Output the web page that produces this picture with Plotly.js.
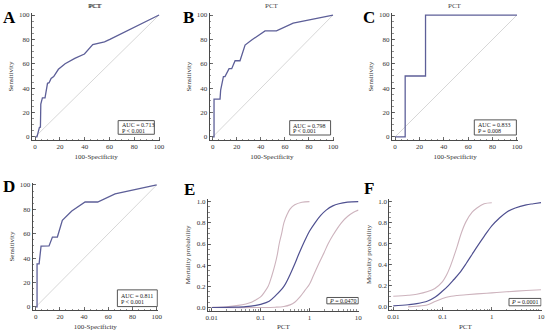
<!DOCTYPE html>
<html><head><meta charset="utf-8">
<script src="https://cdn.plot.ly/plotly-3.0.1.min.js"></script>
<style>html,body{margin:0;padding:0;background:#fff}#c{width:550px;height:334px}</style>
</head><body><div id="c"></div>
<script>
// ROC data (100-Specificity, Sensitivity)
const A_fpr = [0, 1.5, 3.5, 4.3, 4.6, 5.9, 8, 10, 11.3, 12.9, 15, 18.8, 24.2, 32, 39.8, 46.5, 56, 60.3, 100];
const A_tpr = [0, 0, 7.9, 8, 27, 32, 32, 44, 44.5, 48, 49.5, 55.5, 60, 64.5, 68, 75.7, 78, 80, 100];
const B_fpr = [0, 1.1, 1.1, 6.1, 6.6, 8.9, 10.2, 13.6, 15.8, 18.6, 22.7, 26.9, 32.4, 43.5, 53, 66.9, 100];
const B_tpr = [0, 0, 31, 31, 38.5, 49.5, 49.5, 56, 56, 62.5, 62.5, 75.4, 79.5, 87, 87, 93.4, 100];
const C_fpr = [0, 8.3, 8.3, 25, 25, 100];
const C_tpr = [0, 0, 50, 50, 100, 100];
const D_fpr = [0, 1.1, 1.1, 2.8, 4.4, 11, 13.8, 17.9, 22, 29.8, 40.8, 51.2, 65.6, 100];
const D_tpr = [0, 0, 35.3, 35.3, 49.9, 50, 57.3, 57.3, 71, 78.6, 86, 86, 92.6, 100];
const diag = [0, 100];
const aucLabels = ["AUC = 0.713", "AUC = 0.798", "AUC = 0.833", "AUC = 0.811"];
const pLabels = ["P < 0.001", "P < 0.001", "P = 0.008", "P < 0.001"];

// Mortality probability curves (PCT, probability)
const E_mid_x = [0.01, 0.03, 0.05, 0.08, 0.1, 0.15, 0.2, 0.3, 0.4, 0.5, 0.6, 0.8, 1, 1.3, 1.7, 2.2, 3, 4, 6, 10];
const E_mid_y = [0.0, 0.003, 0.008, 0.02, 0.03, 0.06, 0.11, 0.2, 0.31, 0.41, 0.5, 0.63, 0.72, 0.8, 0.87, 0.92, 0.96, 0.98, 0.995, 1.0];
const E_up_x = [0.01, 0.02, 0.035, 0.05, 0.065, 0.08, 0.1, 0.12, 0.143, 0.17, 0.196, 0.22, 0.24, 0.27, 0.3, 0.35, 0.4, 0.5, 0.7, 1.0];
const E_up_y = [0.003, 0.008, 0.02, 0.034, 0.05, 0.072, 0.1, 0.145, 0.2, 0.3, 0.4, 0.5, 0.6, 0.7, 0.8, 0.88, 0.93, 0.97, 0.995, 1.0];
const E_lo_x = [0.01, 0.1, 0.2, 0.3, 0.4, 0.5, 0.64, 0.8, 1.0, 1.2, 1.5, 2.0, 2.4, 3.0, 4.5, 6, 8, 10];
const E_lo_y = [0, 0.0, 0.003, 0.01, 0.025, 0.05, 0.1, 0.16, 0.22, 0.3, 0.4, 0.52, 0.6, 0.68, 0.8, 0.86, 0.9, 0.92];
const F_mid_x = [0.01, 0.02, 0.03, 0.05, 0.07, 0.1, 0.13, 0.17, 0.22, 0.3, 0.4, 0.5, 0.7, 1.0, 1.4, 2, 3, 5, 7, 10];
const F_mid_y = [0.01, 0.02, 0.03, 0.055, 0.09, 0.15, 0.2, 0.26, 0.32, 0.41, 0.5, 0.57, 0.67, 0.77, 0.84, 0.9, 0.94, 0.97, 0.98, 0.99];
const F_up_x = [0.01, 0.02, 0.03, 0.05, 0.07, 0.1, 0.12, 0.14, 0.17, 0.2, 0.24, 0.3, 0.4, 0.5, 0.7, 1.0];
const F_up_y = [0.1, 0.11, 0.12, 0.145, 0.175, 0.24, 0.3, 0.37, 0.48, 0.58, 0.7, 0.81, 0.9, 0.94, 0.98, 0.99];
const F_lo_x = [0.02, 0.03, 0.05, 0.07, 0.1, 0.15, 0.2, 0.3, 0.5, 1, 2, 5, 10];
const F_lo_y = [0.0, 0.005, 0.02, 0.05, 0.08, 0.1, 0.108, 0.115, 0.123, 0.133, 0.143, 0.155, 0.163];
const probLabels = ["<i>P</i> = 0.0470", "<i>P</i> = 0.0001"];
const panelLetters = ["A", "B", "C", "D", "E", "F"];

const W = 550, H = 334;
const FONT = "Liberation Serif";
const ROCCOL = "#5d5f98", DIAGCOL = "#d2d2d2", MIDCOL = "#4f5090", CICOL = "#cdb3bd", AX = "#4a4a4a";

// pixel boxes [left, right, top, bottom]
const boxes = [
  [32, 160.3, 13.2, 140],
  [209.7, 334.2, 13.2, 140],
  [392, 518.2, 13.2, 140],
  [32.7, 157.9, 183.1, 310],
  [208, 358.8, 199, 310.7],
  [389.3, 541.5, 199, 310]
];
function dx(b){return [b[0]/W, b[1]/W];}
function dy(b){return [(H-b[3])/H, (H-b[2])/H];}

const traces = [];
const layout = {
  width: W, height: H, margin: {l:0,r:0,t:0,b:0},
  paper_bgcolor: "#fff", plot_bgcolor: "rgba(0,0,0,0)",
  showlegend: false, font: {family: FONT, size: 7, color: "#333"},
  annotations: [], shapes: []
};
const rocData = [[A_fpr,A_tpr],[B_fpr,B_tpr],[C_fpr,C_tpr],[D_fpr,D_tpr]];
const probData = [
  [[E_up_x,E_up_y],[E_lo_x,E_lo_y],[E_mid_x,E_mid_y]],
  [[F_up_x,F_up_y],[F_lo_x,F_lo_y],[F_mid_x,F_mid_y]]
];

for (let i = 0; i < 6; i++) {
  const n = i + 1;
  const xa = "xaxis" + (n===1?"":n), ya = "yaxis" + (n===1?"":n);
  const xr = "x" + (n===1?"":n), yr = "y" + (n===1?"":n);
  const b = boxes[i];
  const common = {showgrid:false, zeroline:false, showline:true, linecolor:AX, linewidth:1,
    ticks:"inside", ticklen:3, tickcolor:AX, tickwidth:0.8, tickfont:{family:FONT,size:7,color:"#333"},
    fixedrange:true, automargin:false};
  if (i < 4) {
    layout[xa] = Object.assign({}, common, {domain:dx(b), anchor:yr, range:[-2.5,101], tickvals:[0,20,40,60,80,100],
      minor:{ticks:"inside", ticklen:1.5, dtick:5, tick0:0, tickcolor:AX, tickwidth:0.6},
      title:{text:"100-Specificity", font:{family:FONT,size:7,color:"#333"}, standoff:3}});
    layout[ya] = Object.assign({}, common, {domain:dy(b), anchor:xr, range:[-2.5,101.5], tickvals:[0,20,40,60,80,100],
      minor:{ticks:"inside", ticklen:1.5, dtick:5, tick0:0, tickcolor:AX, tickwidth:0.6},
      title:{text:"Sensitivity", font:{family:FONT,size:7,color:"#333"}, standoff:4}});
    traces.push({x:diag, y:diag, xaxis:xr, yaxis:yr, mode:"lines", line:{color:DIAGCOL, width:0.9}, hoverinfo:"skip"});
    traces.push({x:rocData[i][0], y:rocData[i][1], xaxis:xr, yaxis:yr, mode:"lines", line:{color:ROCCOL, width:1.3}, hoverinfo:"skip"});
    layout.annotations.push({text:"PCT", xref:"paper", yref:"paper", x:((b[0]+b[1])/2)/W, y:(H-6)/H,
      showarrow:false, font:{family:FONT,size:7,color:"#444"}, xanchor:"center", yanchor:"middle"});
    const bx = [[67,96.2,2.2,13.4],[64,98,1.6,13.4],[65,99.5,1.6,14],[67.5,100.5,0.3,14]][i];
    layout.shapes.push({type:"rect", xref:xr, yref:yr, x0:bx[0], x1:bx[1], y0:bx[2], y1:bx[3],
      line:{color:"#555", width:1}, fillcolor:"#fff", layer:"above"});
    layout.annotations.push({text:aucLabels[i], xref:xr, yref:yr, x:bx[0]+1.4, y:bx[2]+(bx[3]-bx[2])*0.66,
      showarrow:false, xanchor:"left", yanchor:"middle", font:{family:FONT,size:6,color:"#222"}});
    layout.annotations.push({text:pLabels[i], xref:xr, yref:yr, x:bx[0]+1.4, y:bx[2]+(bx[3]-bx[2])*0.27,
      showarrow:false, xanchor:"left", yanchor:"middle", font:{family:FONT,size:6,color:"#222"}});
  } else {
    const lr = (i===4) ? [-2.076, 1.01] : [-2.081, 1.01];
    layout[xa] = Object.assign({}, common, {domain:dx(b), anchor:yr, type:"log", range:lr,
      tickvals:[0.01,0.1,1,10], ticktext:["0.01","0.1","1","10"],
      minor:{ticks:"inside", ticklen:1.5, dtick:"D1", tickcolor:AX, tickwidth:0.6},
      title:{text:"PCT", font:{family:FONT,size:7,color:"#333"}, standoff:3}});
    layout[ya] = Object.assign({}, common, {domain:dy(b), anchor:xr, range:[-0.03,1.025],
      tickvals:[0,0.2,0.4,0.6,0.8,1.0], tickformat:".1f",
      minor:{ticks:"inside", ticklen:1.5, dtick:0.05, tick0:0, tickcolor:AX, tickwidth:0.6},
      title:{text:"Mortality probability", font:{family:FONT,size:7,color:"#333"}, standoff:5}});
    const pd = probData[i-4];
    traces.push({x:pd[0][0], y:pd[0][1], xaxis:xr, yaxis:yr, mode:"lines", line:{color:CICOL, width:1.1, shape:"spline", smoothing:1}, hoverinfo:"skip"});
    traces.push({x:pd[1][0], y:pd[1][1], xaxis:xr, yaxis:yr, mode:"lines", line:{color:CICOL, width:1.1, shape:"spline", smoothing:1}, hoverinfo:"skip"});
    traces.push({x:pd[2][0], y:pd[2][1], xaxis:xr, yaxis:yr, mode:"lines", line:{color:MIDCOL, width:1.2, shape:"spline", smoothing:1}, hoverinfo:"skip"});
    const bx = (i===4) ? [2.27, 10, 0.035, 0.095] : [2.24, 10, 0.01, 0.08];
    layout.shapes.push({type:"rect", xref:xr, yref:yr, x0:bx[0], x1:bx[1], y0:bx[2], y1:bx[3],
      line:{color:"#555", width:1}, fillcolor:"#fff", layer:"above"});
    const cx = (Math.log10(bx[0]) + Math.log10(bx[1])) / 2;
    layout.annotations.push({text:probLabels[i-4], xref:xr, yref:yr, x:cx, y:(bx[2]+bx[3])/2,
      showarrow:false, xanchor:"center", yanchor:"middle", font:{family:FONT,size:6,color:"#222"}});
  }
}
const letterPos = [[9,17],[188,17],[369,17],[9,186],[189,190],[369,188]];
for (let i = 0; i < 6; i++) {
  layout.annotations.push({text:"<b>"+panelLetters[i]+"</b>", xref:"paper", yref:"paper",
    x:letterPos[i][0]/W, y:(H-letterPos[i][1])/H, showarrow:false, xanchor:"center", yanchor:"middle",
    font:{family:FONT, size:17, color:"#000"}});
}
Plotly.newPlot("c", traces, layout, {staticPlot:true, displayModeBar:false});
</script></body></html>
